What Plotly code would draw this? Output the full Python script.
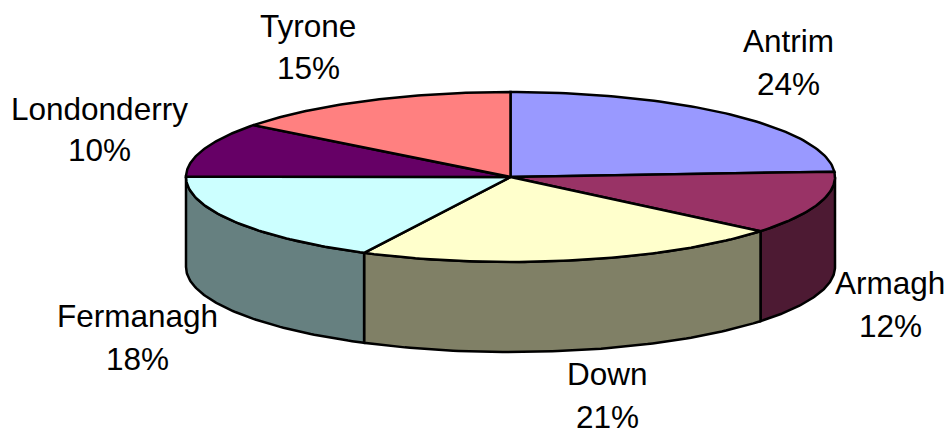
import numpy as np
import plotly.graph_objects as go

# dados
counties = ['Antrim', 'Armagh', 'Down', 'Fermanagh', 'Londonderry', 'Tyrone']
shares = [24.0, 12.0, 21.45, 17.6, 10.4, 14.55]

# cores do topo e da lateral
top_colors = ['#9999FF', '#993366', '#FFFFCC', '#CCFFFF', '#660066', '#FF8080']
side_colors = ['#4D4D80', '#4D1A33', '#808066', '#668080', '#330033', '#804040']

# geometria da pizza
cx, cy = 510.5, 177
rx, ry = 324.5, 85
depth = 90

# posicao dos rotulos (centro x, linha 1, linha 2)
label_pos = [(788, 41, 84), (890, 283, 326), (607, 374, 417),
             (137, 316, 359), (99, 109, 150), (308, 26, 68)]


def arc(a1, a2, drop=0):
    # angulo em graus, 0 no topo, sentido horario
    t = np.radians(np.linspace(a1, a2, 80))
    return cx + rx * np.sin(t), cy - ry * np.cos(t) + drop


def poly_trace(x, y, color):
    return go.Scatter(x=x, y=y, mode='lines', fill='toself', fillcolor=color,
                      line=dict(color='black', width=2.5), hoverinfo='skip',
                      showlegend=False)


fig = go.Figure()

total = sum(shares)
edges = np.cumsum([0] + shares) / total * 360

# laterais (so a parte da frente aparece)
for i in range(len(shares)):
    a1, a2 = max(edges[i], 90), min(edges[i + 1], 270)
    if a2 <= a1:
        continue
    xt, yt = arc(a1, a2)
    xb, yb = arc(a1, a2, depth)
    fig.add_trace(poly_trace(np.r_[xt, xb[::-1], xt[0]], np.r_[yt, yb[::-1], yt[0]], side_colors[i]))

# fatias do topo
for i in range(len(shares)):
    xt, yt = arc(edges[i], edges[i + 1])
    fig.add_trace(poly_trace(np.r_[cx, xt, cx], np.r_[cy, yt, cy], top_colors[i]))

# rotulos
for name, share, (lx, y1, y2) in zip(counties, shares, label_pos):
    pct = f'{share / total * 100:.0f}%'
    for txt, ly in ((name, y1), (pct, y2)):
        fig.add_annotation(x=lx, y=ly, text=txt, showarrow=False, xanchor='center', yanchor='middle')

fig.update_xaxes(range=[0, 952], visible=False, fixedrange=True)
fig.update_yaxes(range=[431, 0], visible=False, fixedrange=True)
fig.update_layout(width=952, height=431, margin=dict(l=0, r=0, t=0, b=0),
                  paper_bgcolor='white', plot_bgcolor='white',
                  font=dict(family='Liberation Sans', size=31.5, color='black'))

# tira a margem padrao do body para a figura ocupar a janela toda
fig.write_html("out.html", config={'displayModeBar': False},
               post_script='document.body.style.margin = "0";')
